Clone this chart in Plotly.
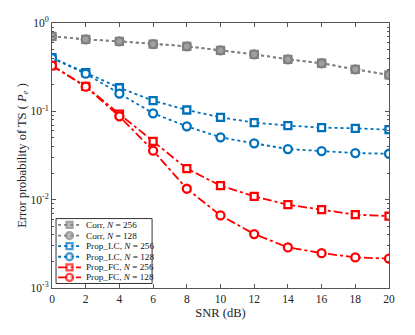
import plotly.graph_objects as go

snr = [0, 2, 4, 6, 8, 10, 12, 14, 16, 18, 20]

corr_256 = [0.706, 0.653, 0.62, 0.578, 0.545, 0.49, 0.442, 0.388, 0.35, 0.299, 0.258]
corr_128 = [0.706, 0.653, 0.62, 0.578, 0.545, 0.49, 0.442, 0.388, 0.35, 0.299, 0.258]
lc_256 = [0.405, 0.274, 0.185, 0.132, 0.1035, 0.0855, 0.0745, 0.069, 0.0654, 0.0642, 0.062]
lc_128 = [0.40, 0.267, 0.159, 0.095, 0.0676, 0.0508, 0.0434, 0.0374, 0.0355, 0.0337, 0.0331]
fc_256 = [0.329, 0.192, 0.0932, 0.0457, 0.0225, 0.0144, 0.0109, 0.00877, 0.0077, 0.00676, 0.00652]
fc_128 = [0.329, 0.19, 0.0878, 0.0359, 0.0133, 0.00664, 0.00408, 0.00288, 0.00248, 0.00222, 0.00215]

y_ticks = [1e-3, 1e-2, 1e-1, 1]
y_labels = ["10<sup>-3</sup>", "10<sup>-2</sup>", "10<sup>-1</sup>", "10<sup>0</sup>"]

GRAY = "#808080"
BLUE = "#0072BD"
RED = "#FF0000"
AX = "#555555"

series = [
    ("Corr, <i>N</i> = 256", corr_256, GRAY, "dot", "square"),
    ("Corr, <i>N</i> = 128", corr_128, GRAY, "dot", "circle"),
    ("Prop_LC, <i>N</i> = 256", lc_256, BLUE, "dot", "square"),
    ("Prop_LC, <i>N</i> = 128", lc_128, BLUE, "dot", "circle"),
    ("Prop_FC, <i>N</i> = 256", fc_256, RED, "dashdot", "square"),
    ("Prop_FC, <i>N</i> = 128", fc_128, RED, "dashdot", "circle"),
]


def marker_style(color, sym):
    fill = "#a0a0a0" if color == GRAY else "white"
    return dict(symbol=sym, size=8 if sym == "circle" else 7, color=fill,
                line=dict(color=color, width=2.3))


fig = go.Figure()
for name, vals, color, dash, sym in series:
    fig.add_trace(
        go.Scatter(
            x=snr, y=vals, name=name, mode="lines+markers", showlegend=False,
            line=dict(color=color, dash=dash, width=1.8),
            marker=marker_style(color, sym),
        )
    )

# compact legend like the original, drawn on a hidden 0..1 overlay axis
leg_rows = [0.238, 0.198, 0.158, 0.118, 0.078, 0.040]
fig.add_shape(type="rect", xref="paper", yref="paper", x0=0.012, x1=0.297, y0=0.017, y1=0.262,
              line=dict(color="#333333", width=1), fillcolor="white", layer="below")
for (name, vals, color, dash, sym), yy in zip(series, leg_rows):
    fig.add_trace(
        go.Scatter(
            x=[0.018, 0.052, 0.086], y=[yy, yy, yy], xaxis="x2", yaxis="y2",
            mode="lines+markers", showlegend=False, hoverinfo="skip",
            line=dict(color=color, dash=dash, width=1.8),
            marker=dict(marker_style(color, sym), size=[0, 7 if sym == "circle" else 6, 0]),
        )
    )
    fig.add_annotation(x=0.094, y=yy, xref="paper", yref="paper", text=name, showarrow=False,
                       xanchor="left", yanchor="middle",
                       font=dict(family="Liberation Serif", size=9.2, color="#111111"))

axis_style = dict(
    showline=True, linecolor=AX, linewidth=1, mirror="allticks",
    ticks="inside", tickcolor=AX, ticklen=4,
    showgrid=False, zeroline=False, automargin=False,
    tickfont=dict(family="Liberation Serif", size=11.5, color="#222222"),
)

# the page body adds an 8px offset, so the figure is 8px smaller and margins shifted
fig.update_layout(
    width=407, height=327,
    margin=dict(l=44, r=26, t=15, b=47),
    plot_bgcolor="white", paper_bgcolor="white",
    font=dict(family="Liberation Serif", size=12, color="#222222"),
    xaxis=dict(
        title=dict(text="SNR (dB)", standoff=4, font=dict(size=12.5)),
        range=[0, 20], tickvals=snr, **axis_style,
    ),
    yaxis=dict(
        title=dict(text="Error probability of TS ( <i>P</i><sub><i>e</i></sub> )", standoff=1, font=dict(size=12.5)),
        type="log", range=[-3, 0], tickvals=y_ticks, ticktext=y_labels,
        minor=dict(ticks="inside", ticklen=2, tickcolor=AX, dtick="D1"),
        **axis_style,
    ),
    xaxis2=dict(overlaying="x", range=[0, 1], visible=False),
    yaxis2=dict(overlaying="y", range=[0, 1], visible=False),
    showlegend=False,
)

fig.write_html("out.html")
